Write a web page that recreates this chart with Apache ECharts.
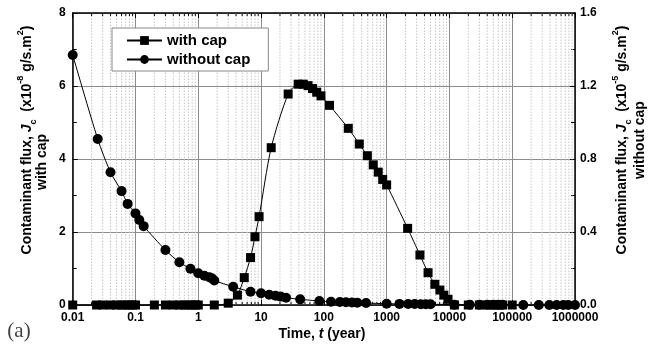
<!DOCTYPE html>
<html><head><meta charset="utf-8">
<script src="https://cdn.jsdelivr.net/npm/echarts@6/dist/echarts.min.js"></script>
<style>html,body{margin:0;padding:0;background:#fff}#c{width:665px;height:353px}</style>
</head><body><div id="c"></div>
<script>
// ---- data ----
const withCapT = [0.01, 0.024, 0.03, 0.04, 0.05, 0.06, 0.07, 0.08, 0.09, 0.1, 0.2, 0.3, 0.4, 0.5, 0.6, 0.7, 0.8, 0.9, 1, 1.8, 3, 4.2, 5.4, 6.8, 8, 9.3, 14.5, 27, 39, 47, 56, 66, 77, 90, 123, 245, 367, 493, 612, 735, 865, 1000, 2160, 3390, 4570, 5860, 7050, 8150, 9500, 12000, 20000, 30000, 40000, 50000, 60000, 70000, 100000];
const withCapJ = [0, 0, 0, 0, 0, 0, 0, 0, 0, 0, 0, 0, 0, 0, 0, 0, 0, 0, 0, 0, 0.05, 0.27, 0.75, 1.30, 1.87, 2.42, 4.31, 5.78, 6.05, 6.05, 6.01, 5.93, 5.83, 5.73, 5.47, 4.84, 4.41, 4.09, 3.84, 3.64, 3.44, 3.29, 2.10, 1.37, 0.885, 0.567, 0.41, 0.27, 0.156, 0, 0, 0, 0, 0, 0, 0, 0];
const withoutCapT = [0.01, 0.025, 0.04, 0.06, 0.075, 0.1, 0.115, 0.135, 0.3, 0.5, 0.75, 1, 1.25, 1.5, 1.65, 1.8, 3.6, 6.8, 10, 13.5, 17, 20.5, 25, 42, 85, 130, 180, 225, 280, 340, 470, 1000, 1600, 2200, 2800, 3500, 4200, 5000, 12000, 21000, 30000, 40000, 50000, 60000, 70000, 150000, 265000, 390000, 510000, 650000, 780000, 1000000];
const withoutCapJ = [1.37, 0.91, 0.727, 0.624, 0.554, 0.502, 0.466, 0.432, 0.301, 0.234, 0.199, 0.174, 0.160, 0.152, 0.146, 0.134, 0.100, 0.073, 0.064, 0.056, 0.051, 0.046, 0.040, 0.031, 0.022, 0.018, 0.016, 0.015, 0.014, 0.013, 0.011, 0.007, 0.006, 0.005, 0.005, 0.004, 0.004, 0.004, 0.002, 0.001, 0.001, 0.001, 0.001, 0.001, 0.001, 0, 0, 0, 0, 0, 0, 0];
const xTickLabels = ['0.01', '0.1', '1', '10', '100', '1000', '10000', '100000', '1000000'];
const leftTicks = ['0', '2', '4', '6', '8'];
const rightTicks = ['0.0', '0.4', '0.8', '1.2', '1.6'];
const seriesNames = ['with cap', 'without cap'];

// minor grid positions (2..9 x each decade)
const minorGridT = [];
for (let e = -2; e < 6; e++) for (let m = 2; m <= 9; m++) minorGridT.push(+(m * Math.pow(10, e)).toPrecision(3));

const F = 'Liberation Sans, Arial, sans-serif';
const chart = echarts.init(document.getElementById('c'));

const richT = {
  n: {fontFamily: F, fontWeight: 'bold', fontSize: 14, lineHeight: 22, fill: '#000'},
  i: {fontFamily: F, fontWeight: 'bold', fontStyle: 'italic', fontSize: 14, lineHeight: 22, fill: '#000'},
  sub: {fontFamily: F, fontWeight: 'bold', fontSize: 9, lineHeight: 11, verticalAlign: 'bottom', fill: '#000'},
  sup: {fontFamily: F, fontWeight: 'bold', fontSize: 9, lineHeight: 11, verticalAlign: 'top', fill: '#000'}
};
function titleText(x, y, txt, rot) {
  return {type: 'text', x: x, y: y, rotation: rot || 0, silent: true,
    style: {text: txt, rich: richT, align: 'center', verticalAlign: 'middle', fontFamily: F, fontWeight: 'bold', fontSize: 14, fill: '#000'}};
}

const axisLineStyle = {color: '#000', width: 1.5};
const option = {
  backgroundColor: '#fff',
  animation: false,
  grid: {left: 72.7, right: 90, top: 13, bottom: 48, containLabel: false},
  legend: {
    left: 112, top: 28, orient: 'vertical', itemWidth: 35, itemHeight: 11, itemGap: 4,
    padding: [5, 18, 4, 14], borderColor: '#888', borderWidth: 1, backgroundColor: '#fff',
    textStyle: {fontFamily: F, fontWeight: 'bold', fontSize: 15, color: '#000'},
    data: seriesNames
  },
  xAxis: [
    {type: 'log', logBase: 10, min: 0.01, max: 1000000, position: 'bottom',
     axisLine: {show: true, onZero: false, lineStyle: axisLineStyle},
     axisTick: {show: true, inside: true, length: 5, lineStyle: {color: '#000', width: 1}},
     axisLabel: {color: '#000', fontFamily: F, fontWeight: 'bold', fontSize: 12, margin: 7,
       formatter: v => xTickLabels[Math.round(Math.log10(v)) + 2]},
     splitLine: {show: true, lineStyle: {color: '#8c8c8c', width: 1}}},
    {type: 'log', logBase: 10, min: 0.01, max: 1000000, position: 'top',
     axisLine: {show: true, onZero: false, lineStyle: axisLineStyle},
     axisTick: {show: true, inside: true, length: 5, lineStyle: {color: '#000', width: 1}},
     axisLabel: {show: false}, splitLine: {show: false}}
  ],
  yAxis: [
    {type: 'value', min: 0, max: 8, interval: 2, position: 'left',
     axisLine: {show: true, lineStyle: axisLineStyle},
     axisTick: {show: true, inside: true, length: 5, lineStyle: {color: '#000', width: 1}},
     minorTick: {show: true, splitNumber: 2, length: 4, lineStyle: {color: '#000', width: 1}},
     axisLabel: {color: '#000', fontFamily: F, fontWeight: 'bold', fontSize: 12, margin: 7,
       formatter: v => leftTicks[Math.round(v / 2)]},
     splitLine: {show: true, lineStyle: {color: '#8c8c8c', width: 1}}},
    {type: 'value', min: 0, max: 1.6, interval: 0.4, position: 'right',
     axisLine: {show: true, lineStyle: axisLineStyle},
     axisTick: {show: true, inside: true, length: 5, lineStyle: {color: '#000', width: 1}},
     minorTick: {show: true, splitNumber: 2, length: 4, lineStyle: {color: '#000', width: 1}},
     axisLabel: {color: '#000', fontFamily: F, fontWeight: 'bold', fontSize: 12, margin: 5,
       formatter: v => rightTicks[Math.round(v / 0.4)]},
     splitLine: {show: false}}
  ],
  series: [
    {type: 'custom', name: 'minor', xAxisIndex: 0, yAxisIndex: 0, silent: true, z: 1,
     data: minorGridT.map(t => [t, 0]),
     renderItem: (params, api) => {
       const x = api.value(0);
       const b = api.coord([x, 0]), t = api.coord([x, 8]);
       return {type: 'group', children: [
         {type: 'line', shape: {x1: b[0], y1: b[1], x2: t[0], y2: t[1]}, style: {stroke: '#c6c6c6', lineWidth: 1, lineDash: [1.5, 1.5]}},
         {type: 'line', shape: {x1: b[0], y1: b[1], x2: b[0], y2: b[1] - 3}, style: {stroke: '#000', lineWidth: 1}},
         {type: 'line', shape: {x1: t[0], y1: t[1], x2: t[0], y2: t[1] + 3}, style: {stroke: '#000', lineWidth: 1}}
       ]};
     }},
    {type: 'line', name: seriesNames[0], xAxisIndex: 0, yAxisIndex: 0, z: 3, clip: false,
     data: withCapT.map((t, i) => [t, withCapJ[i]]),
     symbol: 'rect', symbolSize: 9, smooth: 0.25, color: '#000',
     itemStyle: {color: '#000'}, lineStyle: {color: '#000', width: 1}},
    {type: 'line', name: seriesNames[1], xAxisIndex: 0, yAxisIndex: 1, z: 3, clip: false,
     data: withoutCapT.map((t, i) => [t, withoutCapJ[i]]),
     symbol: 'circle', symbolSize: 10, smooth: 0.25, color: '#000',
     itemStyle: {color: '#000'}, lineStyle: {color: '#000', width: 1}}
  ],
  graphic: [
    titleText(27, 140, '{n|Contaminant flux, }{i|J}{sub|c}{n|  (x10}{sup|-8}{n| g/s.m}{sup|2}{n|)}', Math.PI / 2),
    titleText(42, 162, '{n|with cap}', Math.PI / 2),
    titleText(622, 140, '{n|Contaminant flux, }{i|J}{sub|c}{n|  (x10}{sup|-5}{n| g/s.m}{sup|2}{n|)}', Math.PI / 2),
    titleText(640, 140, '{n|without cap}', Math.PI / 2),
    titleText(322, 334, '{n|Time, }{i|t}{n| (year)}', 0),
    {type: 'text', x: 19, y: 331, silent: true,
     style: {text: '(a)', fontFamily: 'Liberation Serif, Times New Roman, serif', fontSize: 21, fill: '#444', align: 'center', verticalAlign: 'middle'}}
  ]
};
chart.setOption(option);
</script>
</body></html>
